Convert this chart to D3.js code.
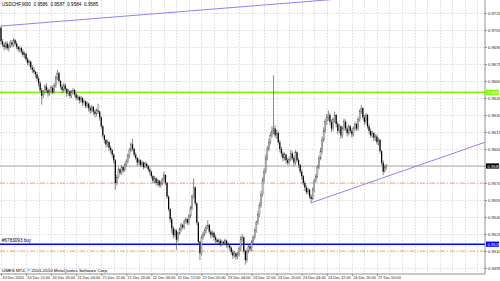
<!DOCTYPE html>
<html>
<head>
<meta charset="utf-8">
<script src="https://d3js.org/d3.v7.min.js"></script>
<style>
body{margin:0;background:#fff;}
svg{display:block;font-family:"Liberation Sans",Arial,sans-serif;}
.grid line{stroke:#c4c4cc;stroke-width:0.6;stroke-dasharray:1.5,1.5;}
.axis text{font-size:4.2px;fill:#222;}
.xaxis text{font-size:3.8px;}
.axis path,.axis line{stroke:#777;stroke-width:0.8;}
</style>
</head>
<body>
<svg id="chart"></svg>
<script>
// prices in pips above 0.9500
var pipBase=0.95
var openP=[207,195,192,190,193,189,191,194,192,196,
193,190,188,189,186,183,184,179,176,177,
172,170,168,166,162,158,152,147,150,155,
152,149,151,154,150,156,163,167,160,155,
152,156,153,149,151,147,150,152,148,145,
146,143,145,141,142,138,140,136,134,137,
133,131,134,133,128,120,112,108,104,106,
101,99,95,90,70,75,82,79,84,81,
86,89,94,99,104,100,95,92,88,90,
86,88,84,87,85,82,80,76,72,74,
70,72,68,70,73,77,70,58,47,38,
30,24,28,20,26,29,33,31,36,38,
35,41,48,58,66,52,35,18,8,22,
25,28,31,33,27,24,26,22,20,18,
19,16,18,17,19,16,15,13,9,6,
8,5,7,12,20,22,10,2,10,14,
12,18,22,28,35,42,50,60,72,80,
92,100,106,112,116,118,112,114,106,100,
96,92,95,90,88,91,96,92,88,97,
90,86,80,76,70,66,62,64,58,56,
64,72,76,84,92,98,108,116,124,128,
130,124,118,126,130,122,116,120,112,118,
124,118,114,120,116,113,118,122,118,126,
133,136,128,124,130,120,116,112,114,110,
111,106,108,98,88,80,84]
var highP=[209,197,194,195,195,193,196,196,198,197,
195,191,191,190,188,186,185,181,179,178,
174,172,169,168,164,160,154,152,157,158,
154,153,156,156,158,165,170,168,161,157,
158,158,154,153,152,152,154,153,150,148,
147,147,146,144,143,142,141,138,139,138,
135,136,140,134,129,121,113,109,108,107,
103,100,96,91,77,84,83,86,85,88,
91,96,101,106,109,101,97,93,92,91,
90,89,89,88,86,84,81,77,76,75,
74,73,72,75,80,78,71,59,48,40,
32,30,29,27,31,35,34,38,40,39,
43,50,60,74,67,53,36,19,24,27,
30,33,37,34,29,28,27,24,21,21,
21,20,19,21,20,18,16,14,11,10,
9,9,14,23,25,23,11,12,16,15,
20,24,30,37,45,53,63,75,83,95,
103,109,115,120,165,121,117,116,108,102,
98,97,96,92,93,99,98,94,99,98,
92,87,82,77,72,68,66,65,60,66,
74,78,86,94,101,111,119,127,131,134,
132,126,128,133,131,124,122,121,120,127,
126,120,122,121,118,120,124,123,128,135,
139,137,130,132,131,122,118,116,115,113,
113,110,109,99,90,86,87]
var lowP=[192,190,187,188,187,186,189,190,190,191,
188,186,185,184,181,180,177,174,173,170,
167,166,163,160,155,150,139,145,148,150,
146,147,149,148,149,154,161,158,153,149,
150,151,146,147,145,145,148,146,143,143,
140,141,138,139,136,136,133,131,132,130,
128,129,131,125,118,110,105,101,102,98,
96,92,87,64,68,74,77,77,79,80,
84,87,92,97,98,93,90,85,86,84,
84,82,83,83,80,77,74,70,70,68,
67,66,66,68,71,68,56,45,35,26,
21,22,11,18,24,27,29,29,34,33,
33,39,46,56,50,33,16,2,6,20,
23,26,29,25,21,22,19,17,15,16,
14,14,15,15,13,12,10,7,3,4,
2,3,5,10,18,8,-2,0,8,10,
10,16,20,26,33,40,48,58,70,78,
90,98,104,110,113,110,109,104,97,93,
89,90,87,86,86,89,90,85,86,88,
83,78,73,68,63,60,60,56,52,55,
62,70,74,82,90,96,106,114,121,125,
121,115,116,123,119,113,114,109,110,116,
116,111,112,114,110,111,116,116,116,124,
131,126,121,122,118,113,110,110,107,107,
104,103,96,86,77,79,82]
var closeP=[195,192,190,193,189,191,194,192,196,193,
190,188,189,186,183,184,179,176,177,172,
170,168,166,162,158,152,147,150,155,152,
149,151,154,150,156,163,167,160,155,152,
156,153,149,151,147,150,152,148,145,146,
143,145,141,142,138,140,136,134,137,133,
131,134,133,128,120,112,108,104,106,101,
99,95,90,70,75,82,79,84,81,86,
89,94,99,104,100,95,92,88,90,86,
88,84,87,85,82,80,76,72,74,70,
72,68,70,73,77,70,58,47,38,30,
24,28,20,26,29,33,31,36,38,35,
41,48,58,66,52,35,18,8,22,25,
28,31,33,27,24,26,22,20,18,19,
16,18,17,19,16,15,13,9,6,8,
5,7,12,20,22,10,2,10,14,12,
18,22,28,35,42,50,60,72,80,92,
100,106,112,116,118,112,114,106,100,96,
92,95,90,88,91,96,92,88,97,90,
86,80,76,70,66,62,64,58,56,64,
72,76,84,92,98,108,116,124,128,130,
124,118,126,130,122,116,120,112,118,124,
118,114,120,116,113,118,122,118,126,133,
136,128,124,130,120,116,112,114,110,111,
106,108,98,88,80,84,85]

var priceTicks=[0.9720,0.9705,0.9690,0.9675,0.9660,0.9645,0.9630,0.9615,0.9600,0.9585,0.9570,0.9555,0.9540,0.9525,0.9510,0.9495]
var timeTickBars=[0,16,32,48,64,80,96,112,128,144,160,176,192,208,224,240]
var timeTickLabels=["20 Dec 2010","20 Dec 12:00","20 Dec 20:00","21 Dec 04:00","21 Dec 12:00","21 Dec 20:00","22 Dec 04:00","22 Dec 12:00","22 Dec 20:00","23 Dec 04:00","23 Dec 12:00","23 Dec 20:00","24 Dec 04:00","24 Dec 12:00","24 Dec 20:00","27 Dec 00:00"]

// horizontal objects
var levelPrices=[0.9650,0.9516]
var levelColors=["#7cfc00","#0000ff"]
var stopPrices=[0.9570,0.9510]
var bidPrice=0.9585
// trend lines: [bar, price] pairs (rays)
var trend1=[[0,0.97085],[208,0.97315]]
var trend2=[[198,0.95525],[280,0.95920]]

var headerText="USDCHF,M30  0.9586 0.9587 0.9584 0.9585"
var orderText="#6783093 buy"
var copyText="UMES MT4, \u00a9 2001-2010 MetaQuotes Software Corp."

var initGraph=function()
{
    var screen={width:500,height:281}
    var plot={left:0,right:485,top:0,bottom:274}

    var svg=d3.select("#chart")
        .attr("width",screen.width)
        .attr("height",screen.height)

    svg.append("rect").attr("width",screen.width).attr("height",screen.height).attr("fill","#fff")

    svg.append("defs").append("clipPath").attr("id","plotclip")
        .append("rect")
        .attr("x",plot.left).attr("y",plot.top)
        .attr("width",plot.right-plot.left).attr("height",plot.bottom-plot.top)

    var bars=openP.map(function(o,i){
        return {i:i,o:pipBase+o/10000,h:pipBase+highP[i]/10000,
                l:pipBase+lowP[i]/10000,c:pipBase+closeP[i]/10000}
    })

    var xScale=d3.scaleLinear().domain([0,309]).range([1,485])
    var yScale=d3.scaleLinear().domain([0.9720,0.9495]).range([13,268])

    drawGrid(svg,plot,xScale,yScale)
    drawLevels(svg,plot,xScale,yScale)
    drawBars(svg,bars,xScale,yScale)
    drawTrends(svg,plot,xScale,yScale)
    drawAxes(svg,plot,xScale,yScale)
    drawLabels(svg,plot,xScale,yScale)
}

var drawGrid=function(svg,plot,xScale,yScale)
{
    var g=svg.append("g").classed("grid",true)
    g.selectAll(".h").data(priceTicks).enter().append("line")
        .attr("x1",plot.left).attr("x2",plot.right)
        .attr("y1",function(d){return Math.round(yScale(d))+0.5})
        .attr("y2",function(d){return Math.round(yScale(d))+0.5})
    g.selectAll(".v").data(d3.range(0,310,8)).enter().append("line")
        .attr("x1",function(d){return Math.round(xScale(d))+0.5})
        .attr("x2",function(d){return Math.round(xScale(d))+0.5})
        .attr("y1",plot.top).attr("y2",plot.bottom)
}

var drawLevels=function(svg,plot,xScale,yScale)
{
    var g=svg.append("g").attr("clip-path","url(#plotclip)")
    g.append("line")
        .attr("x1",plot.left).attr("x2",plot.right)
        .attr("y1",yScale(bidPrice)).attr("y2",yScale(bidPrice))
        .attr("stroke","#a0a0a0").attr("stroke-width",0.9)
    g.selectAll(".stop").data(stopPrices).enter().append("line")
        .attr("x1",plot.left).attr("x2",plot.right)
        .attr("y1",function(d){return yScale(d)}).attr("y2",function(d){return yScale(d)})
        .attr("stroke","#f09070").attr("stroke-width",0.8)
        .attr("stroke-dasharray","5,2,1,2")
    g.selectAll(".lvl").data(levelPrices).enter().append("line")
        .attr("x1",plot.left).attr("x2",plot.right)
        .attr("y1",function(d){return yScale(d)}).attr("y2",function(d){return yScale(d)})
        .attr("stroke",function(d,i){return levelColors[i]})
        .attr("stroke-width",1.5)
}

var drawBars=function(svg,bars,xScale,yScale)
{
    var g=svg.append("g")
    g.selectAll(".wick").data(bars).enter().append("line")
        .attr("x1",function(d){return xScale(d.i)}).attr("x2",function(d){return xScale(d.i)})
        .attr("y1",function(d){return yScale(d.h)}).attr("y2",function(d){return yScale(d.l)})
        .attr("stroke","#555").attr("stroke-width",0.7)
    g.selectAll(".body").data(bars).enter().append("rect")
        .attr("x",function(d){return xScale(d.i)-0.6})
        .attr("width",1.2)
        .attr("y",function(d){return yScale(Math.max(d.o,d.c))})
        .attr("height",function(d){return Math.max(0.5,Math.abs(yScale(d.o)-yScale(d.c)))})
        .attr("fill",function(d){return d.c>=d.o?"#c4c4c4":"#000"})
        .attr("stroke",function(d){return d.c>=d.o?"#555":"none"})
        .attr("stroke-width",0.3)
}

var drawTrends=function(svg,plot,xScale,yScale)
{
    var g=svg.append("g").attr("clip-path","url(#plotclip)")
    ;[trend1,trend2].forEach(function(t){
        var slope=(t[1][1]-t[0][1])/(t[1][0]-t[0][0])
        var endBar=xScale.domain()[1]
        g.append("line")
            .attr("x1",xScale(t[0][0])).attr("y1",yScale(t[0][1]))
            .attr("x2",xScale(endBar)).attr("y2",yScale(t[0][1]+slope*(endBar-t[0][0])))
            .attr("stroke","#7878f0").attr("stroke-width",0.9)
    })
}

var drawAxes=function(svg,plot,xScale,yScale)
{
    var yAxis=d3.axisRight(yScale).tickValues(priceTicks)
        .tickFormat(d3.format(".4f")).tickSize(2).tickPadding(1)
    svg.append("g").classed("axis",true)
        .attr("transform","translate("+plot.right+",0)")
        .call(yAxis)
        .call(function(g){g.select(".domain").attr("d","M0,0V"+plot.bottom)})

    var xAxis=d3.axisBottom(xScale).tickValues(timeTickBars)
        .tickFormat(function(d,i){return timeTickLabels[i]}).tickSize(2)
    svg.append("g").classed("axis",true).classed("xaxis",true)
        .attr("transform","translate(0,"+plot.bottom+")")
        .call(xAxis)
        .call(function(g){
            g.select(".domain").attr("d","M0,0H"+plot.right)
            g.selectAll("text").attr("text-anchor","start").attr("dx","0.8").attr("y",2.3)
        })
}

var drawLabels=function(svg,plot,xScale,yScale)
{
    var tags=[{p:levelPrices[0],bg:levelColors[0],fg:"#fff"},
              {p:levelPrices[1],bg:levelColors[1],fg:"#fff"},
              {p:bidPrice,bg:"#000",fg:"#fff"}]
    var g=svg.append("g")
    tags.forEach(function(t){
        var y=yScale(t.p)
        g.append("rect").attr("x",plot.right+1).attr("y",y-2.6)
            .attr("width",13).attr("height",5.2).attr("fill",t.bg)
        g.append("text").attr("x",plot.right+2.5).attr("y",y+1.5)
            .attr("font-size",4.2).attr("fill",t.fg).text(d3.format(".4f")(t.p))
    })
    svg.append("text").attr("x",2).attr("y",5.5).attr("font-size",4.6)
        .attr("word-spacing",1.5).attr("fill","#000").text(headerText)
    svg.append("text").attr("x",2).attr("y",yScale(levelPrices[1])-2).attr("font-size",4.6).attr("fill","#000").text(orderText)
    svg.append("text").attr("x",2).attr("y",plot.bottom-2).attr("font-size",4.4).attr("fill","#000").text(copyText)
}

initGraph()
</script>
</body>
</html>
